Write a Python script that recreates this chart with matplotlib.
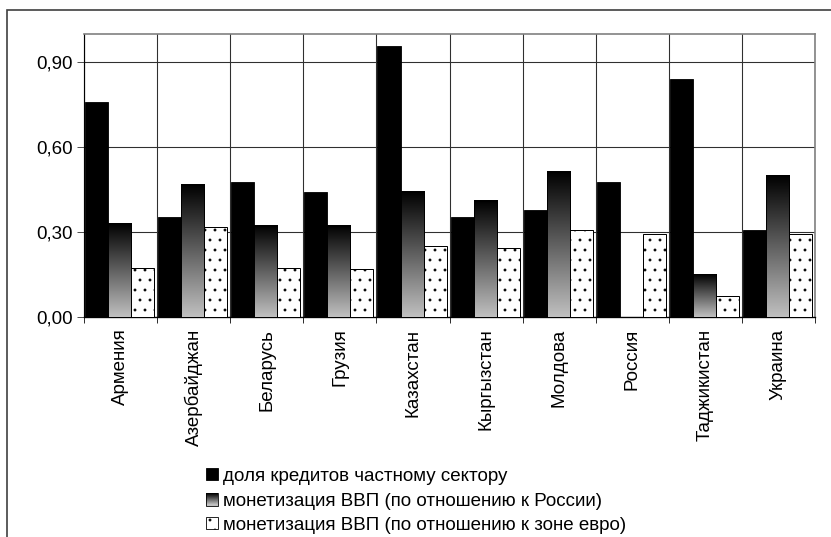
import numpy as np
import matplotlib
matplotlib.use("Agg")
import matplotlib.pyplot as plt
from matplotlib.colors import LinearSegmentedColormap
from matplotlib.patches import Rectangle
from matplotlib.legend_handler import HandlerBase

plt.rcParams['font.family'] = ['Liberation Sans', 'DejaVu Sans']
plt.rcParams['hatch.linewidth'] = 1.0

countries = ['Армения', 'Азербайджан', 'Беларусь', 'Грузия', 'Казахстан',
             'Кыргызстан', 'Молдова', 'Россия', 'Таджикистан', 'Украина']
credit_share = [0.76, 0.354, 0.476, 0.44, 0.957, 0.355, 0.379, 0.476, 0.841, 0.309]
monet_russia = [0.332, 0.467, 0.322, 0.323, 0.443, 0.411, 0.513, np.nan, 0.151, 0.501]
monet_euro = [0.172, 0.318, 0.172, 0.168, 0.251, 0.243, 0.308, 0.293, 0.075, 0.293]

series_names = ['доля кредитов частному сектору',
                'монетизация ВВП (по отношению к России)',
                'монетизация ВВП (по отношению к зоне евро)']
yticks = [0.0, 0.3, 0.6, 0.9]
ytick_labels = ['0,00', '0,30', '0,60', '0,90']

gray_cmap = LinearSegmentedColormap.from_list('fade', ['#c0c0c0', '#000000'])
grad = np.linspace(0, 1, 256).reshape(-1, 1)

DPI = 60
FS = 22.5
fig = plt.figure(figsize=(831 / DPI, 537 / DPI), dpi=DPI)
ax = fig.add_axes([84 / 831, 1 - 317 / 537, (815 - 84) / 831, (317 - 34) / 537])

n = len(countries)
x = np.arange(n)
bw = 0.315
off = 0.015

# черные столбцы
ax.bar(x + off, credit_share, bw, align='edge', color='black',
       edgecolor='black', linewidth=1.0, zorder=3)

# столбцы с градиентом
for i, v in enumerate(monet_russia):
    if np.isnan(v):
        continue
    x0 = i + off + bw
    ax.imshow(grad, extent=[x0, x0 + bw, 0, v], origin='lower',
              cmap=gray_cmap, aspect='auto', zorder=3, interpolation='bilinear')
    ax.add_patch(Rectangle((x0, 0), bw, v, fill=False, edgecolor='black',
                           linewidth=1.2, zorder=4))

# столбцы с точками
ax.bar(x + off + 2 * bw, monet_euro, bw, align='edge', color='white',
       edgecolor='black', hatch='.', linewidth=1.2, zorder=3)

ax.set_xlim(0, n)
ax.set_ylim(0, 1.0)
ax.set_yticks(yticks)
ax.set_yticklabels(ytick_labels, fontsize=FS)
ax.set_xticks(np.arange(n + 1))
ax.set_xticklabels([])
ax.set_xticks(x + 0.5, minor=True)
ax.set_xticklabels(countries, minor=True, rotation=90, fontsize=FS)
ax.tick_params(axis='x', which='minor', length=0, pad=14)
ax.tick_params(axis='x', which='major', length=7, width=1.2, color='#303030')
ax.tick_params(axis='y', length=8, width=1.2, color='#505050', pad=5)

ax.grid(True, which='major', color='#303030', linewidth=1.3, zorder=0)
ax.set_axisbelow(True)
for side in ['top', 'right']:
    ax.spines[side].set_color('#808080')
    ax.spines[side].set_linewidth(2.0)
ax.spines['left'].set_color('black')
ax.spines['left'].set_linewidth(1.4)
ax.spines['bottom'].set_color('black')
ax.spines['bottom'].set_linewidth(1.6)


class GradientHandler(HandlerBase):
    def create_artists(self, legend, orig_handle, xdescent, ydescent,
                       width, height, fontsize, trans):
        parts = []
        steps = 12
        for k in range(steps):
            c = gray_cmap(1 - k / (steps - 1))
            parts.append(Rectangle((0, height - (k + 1) * height / steps),
                                   width, height / steps, facecolor=c,
                                   edgecolor='none', transform=trans))
        parts.append(Rectangle((0, 0), width, height, fill=False,
                               edgecolor='black', linewidth=1.0, transform=trans))
        return parts


h_black = Rectangle((0, 0), 1, 1, facecolor='black', edgecolor='black')
h_grad = Rectangle((0, 0), 1, 1, facecolor='gray')
h_dots = Rectangle((0, 0), 1, 1, facecolor='white', edgecolor='black', hatch='.')

fig.legend([h_black, h_grad, h_dots], series_names,
           handler_map={h_grad: GradientHandler()},
           loc='upper left', bbox_to_anchor=(206 / 831, 1 - 468 / 537),
           frameon=False, fontsize=FS, handlelength=0.62, handleheight=0.62,
           handletextpad=0.3, labelspacing=0.4, borderpad=0, borderaxespad=0)

# рамка диаграммы
fig.add_artist(Rectangle((7 / 831, -0.1), 1.2, 1 - 10 / 537 + 0.1,
                         transform=fig.transFigure, fill=False,
                         edgecolor='#404040', linewidth=2.0))

fig.savefig('out.png', dpi=DPI)
